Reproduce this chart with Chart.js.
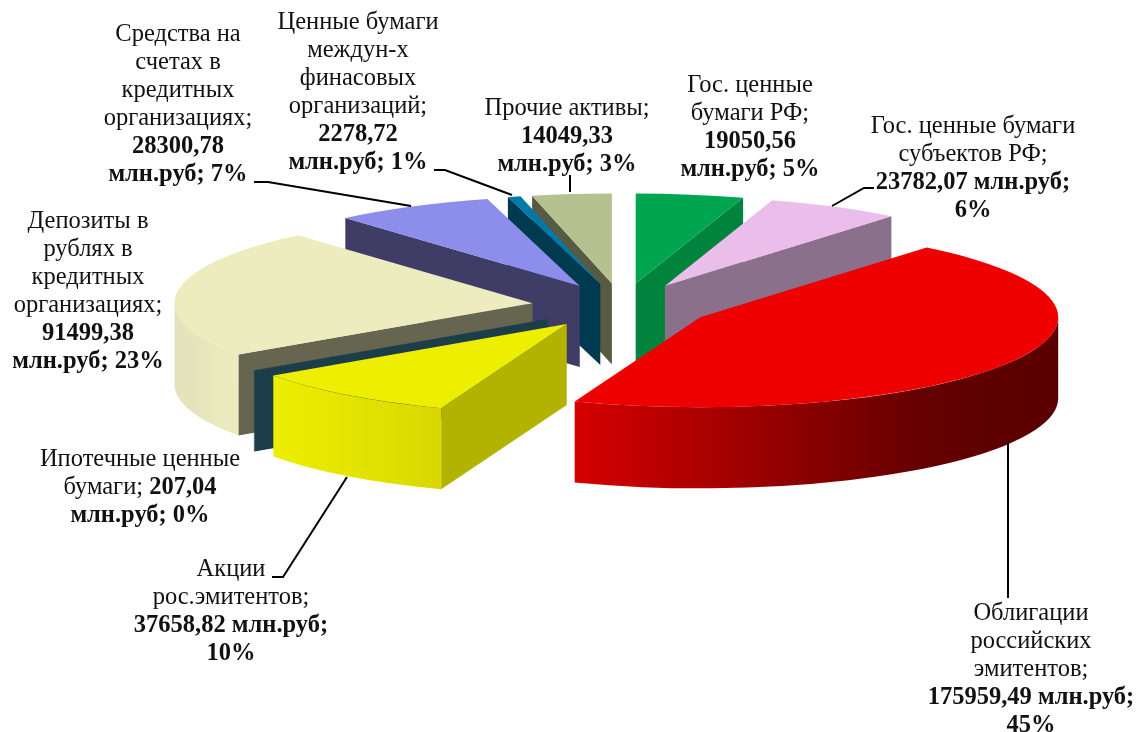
<!DOCTYPE html>
<html><head><meta charset="utf-8">
<style>html,body{margin:0;padding:0;background:#fff}canvas{display:block}</style>
<script src="https://cdn.jsdelivr.net/npm/chart.js@4"></script>
</head><body>
<canvas id="c" width="1139" height="732"></canvas>
<script>
const categories = ["Гос. ценные бумаги РФ","Гос. ценные бумаги субъектов РФ","Облигации российских эмитентов","Акции рос.эмитентов","Ипотечные ценные бумаги","Депозиты в рублях в кредитных организациях","Средства на счетах в кредитных организациях","Ценные бумаги междун-х финасовых организаций","Прочие активы"];
const values = [19050.56,23782.07,175959.49,37658.82,207.04,91499.38,28300.78,2278.72,14049.33];
const topColors = ["#00A64F","#EBBDEB","#EE0000","#EEEE00","#1C3E4B","#ECECBE","#8D8DEB","#0078A8","#B5C290"];
const cutColors = ["#00843D","#8A708A","#A00000","#B2B200","#1C3E4B","#666650","#3F3C66","#003A50","#585B42"];
const wallStops = {2:[[0,"#D60000"],[0.72,"#640000"],[1,"#5A0000"]],3:[[0,"#EEEE00"],[1,"#D8D800"]],5:[[0,"#E2E2BC"],[1,"#ECECBE"]]};
// star switches the rest of a line to bold
const labelLines = [
 ["Гос. ценные","бумаги РФ;","*19050,56","*млн.руб; 5%"],
 ["Гос. ценные бумаги","субъектов РФ;","*23782,07 млн.руб;","*6%"],
 ["Облигации","российских","эмитентов;","*175959,49 млн.руб;","*45%"],
 ["Акции","рос.эмитентов;","*37658,82 млн.руб;","*10%"],
 ["Ипотечные ценные","бумаги; *207,04","*млн.руб; 0%"],
 ["Депозиты в","рублях в","кредитных","организациях;","*91499,38","*млн.руб; 23%"],
 ["Средства на","счетах в","кредитных","организациях;","*28300,78","*млн.руб; 7%"],
 ["Ценные бумаги","междун-х","финасовых","организаций;","*2278,72","*млн.руб; 1%"],
 ["Прочие активы;","*14049,33","*млн.руб; 3%"]
];
const labelPos = [[750,92],[973,133],[1031,620],[231,576],[140,466],[88,228],[178,41],[358,29],[567,115]];
const leaders = [
 [[254,182],[268,182],[411,206]],
 [[434,170],[445,170],[512,195]],
 [[570,175],[570,192]],
 [[874,188],[864,188],[832,206]],
 [[1008,443],[1008,598]],
 [[272,577],[283,577],[347,477]]
];
const drawOrder = [8,7,6,0,1,5,4,3,2];
const RX = 358, RY = 90, EXPLODE = 0.252, DEPTH = 81, LINE = 28;
const FONT = '"Liberation Serif"', SIZE = 24.5;

const pie3d = {
  id:'pie3d',
  beforeDatasetsDraw(chart){
    const ctx = chart.ctx, arcs = chart.getDatasetMeta(0).data;
    for(const i of drawOrder){
      const arc = arcs[i], s = arc.startAngle, e = arc.endAngle, mid=(s+e)/2;
      const cx = arc.x + Math.cos(mid)*EXPLODE*RX, cy = arc.y + Math.sin(mid)*EXPLODE*RY;
      const pt = t => [cx+Math.cos(t)*RX, cy+Math.sin(t)*RY];
      const cut = t => {
        const p = pt(t);
        ctx.beginPath();ctx.moveTo(cx,cy);ctx.lineTo(p[0],p[1]);ctx.lineTo(p[0],p[1]+DEPTH);ctx.lineTo(cx,cy+DEPTH);ctx.closePath();
        ctx.fillStyle = cutColors[i];ctx.fill();
      };
      // side faces that turn toward the viewer
      if(Math.sin(s+Math.PI/2) < 0) cut(s);
      if(Math.sin(e+Math.PI/2) > 0) cut(e);
      // rim: only the part on the viewer's half of the ellipse
      const twoPi = Math.PI*2;
      const ranges = [[0,Math.PI],[twoPi,twoPi+Math.PI]];
      for(const [lo,hi] of ranges){
        const a = Math.max(s,lo), b = Math.min(e,hi);
        if(b <= a) continue;
        ctx.beginPath();
        ctx.ellipse(cx,cy,RX,RY,0,a,b);
        ctx.ellipse(cx,cy+DEPTH,RX,RY,0,b,a,true);
        ctx.closePath();
        let xs=[pt(a)[0],pt(b)[0]];
        if(a===0) xs.push(cx+RX);
        const stops = wallStops[i];
        if(stops){
          const g = ctx.createLinearGradient(Math.min(...xs),0,Math.max(...xs),0);
          stops.forEach(st=>g.addColorStop(st[0],st[1]));
          ctx.fillStyle = g;
        } else ctx.fillStyle = cutColors[i];
        ctx.fill();
      }
      // top face: the library's own arc element under a tilt
      ctx.save();
      ctx.translate(cx,cy);
      ctx.scale(RX/arc.outerRadius,RY/arc.outerRadius);
      ctx.translate(-arc.x,-arc.y);
      arc.draw(ctx);
      ctx.restore();
    }
    return false;
  },
  afterDraw(chart){
    const ctx = chart.ctx;
    ctx.save();
    ctx.strokeStyle='#000';ctx.lineWidth=2;ctx.lineJoin='miter';
    leaders.forEach(l=>{ctx.beginPath();l.forEach((p,k)=>k?ctx.lineTo(p[0],p[1]):ctx.moveTo(p[0],p[1]));ctx.stroke();});
    ctx.fillStyle='#111';ctx.textBaseline='alphabetic';ctx.textAlign='left';
    const reg=`${SIZE}px ${FONT}`, bold=`bold ${SIZE}px ${FONT}`;
    labelLines.forEach((lines,i)=>{
      lines.forEach((ln,k)=>{
        const parts = ln.split('*');
        const plain = parts[0], strong = parts[1]||'';
        ctx.font=reg;const w1=ctx.measureText(plain).width;
        ctx.font=bold;const w2=ctx.measureText(strong).width;
        let x = labelPos[i][0]-(w1+w2)/2, y = labelPos[i][1]+k*LINE;
        ctx.font=reg;ctx.fillText(plain,x,y);
        ctx.font=bold;ctx.fillText(strong,x+w1,y);
      });
    });
    ctx.restore();
  }
};

new Chart(document.getElementById('c'),{
  type:'pie',
  data:{labels:categories,datasets:[{data:values,backgroundColor:topColors,borderWidth:0}]},
  options:{
    responsive:false,animation:false,
    layout:{padding:{left:105,bottom:120,top:0,right:0}},
    plugins:{legend:{display:false},tooltip:{enabled:false}}
  },
  plugins:[pie3d]
});
</script>
</body></html>
